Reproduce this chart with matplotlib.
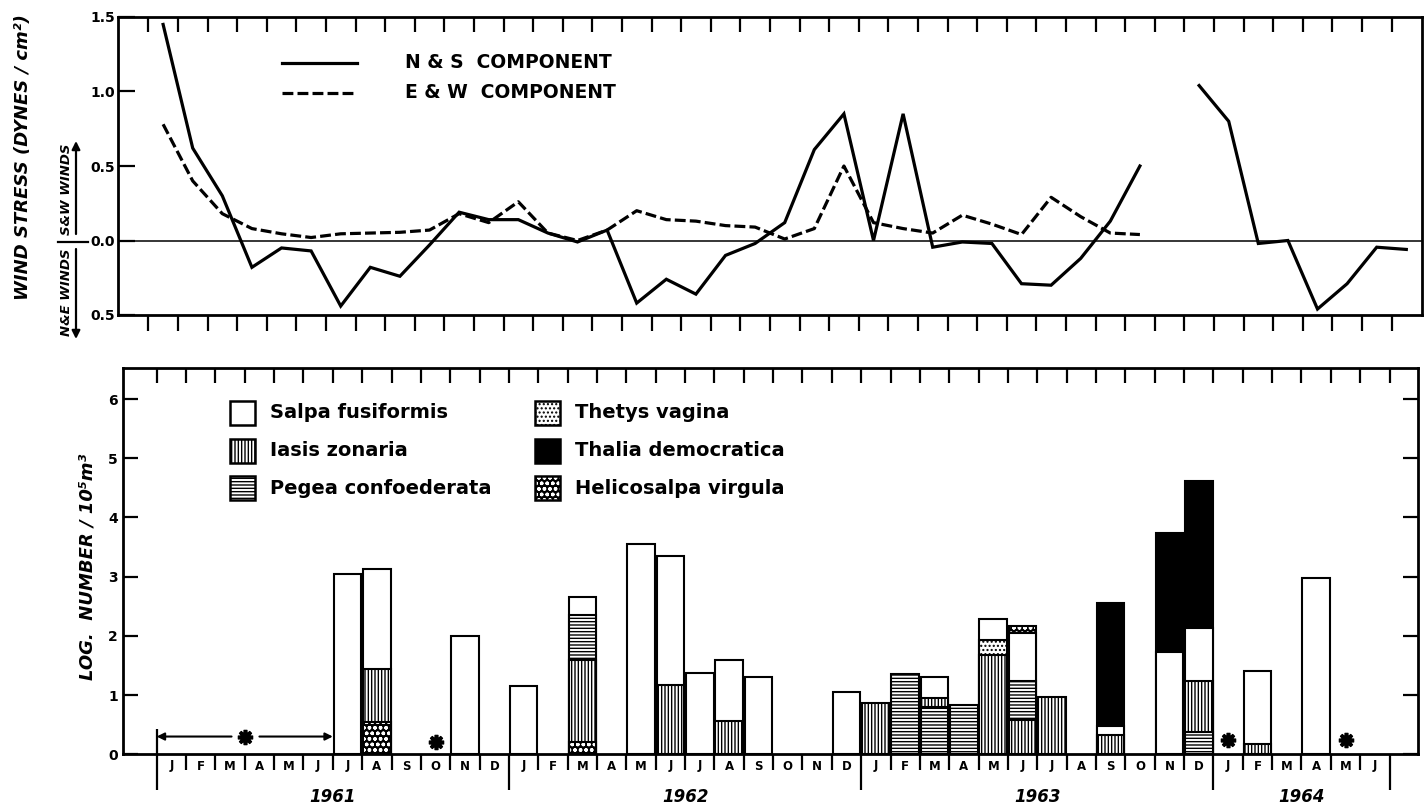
import matplotlib
matplotlib.use('Agg')
import matplotlib.pyplot as plt
from matplotlib.patches import Rectangle
from matplotlib.lines import Line2D
import numpy as np

plt.rcParams['font.family'] = ['DejaVu Sans']
plt.rcParams['hatch.linewidth'] = 1.0

W, H, DPI = 1425, 807, 100

# ---------------- data ----------------
month_letters = ['J', 'F', 'M', 'A', 'M', 'J', 'J', 'A', 'S', 'O', 'N', 'D',
                 'J', 'F', 'M', 'A', 'M', 'J', 'J', 'A', 'S', 'O', 'N', 'D',
                 'J', 'F', 'M', 'A', 'M', 'J', 'J', 'A', 'S', 'O', 'N', 'D',
                 'J', 'F', 'M', 'A', 'M', 'J']
years = ['1961', '1962', '1963', '1964']
year_months = [12, 12, 12, 6]

# wind stress, monthly from Jan 1961 (dynes/cm^2); negative = N&E winds
ns_component = [1.45, 0.62, 0.30, -0.18, -0.05, -0.07, -0.44, -0.18, -0.24, -0.03,
                0.19, 0.14, 0.14, 0.05, -0.01, 0.07, -0.42, -0.26, -0.36, -0.10,
                -0.02, 0.12, 0.61, 0.85, 0.00, 0.85, -0.045, -0.01, -0.02, -0.29,
                -0.30, -0.12, 0.13, 0.50, None, 1.04, 0.80, -0.02, 0.00, -0.46,
                -0.29, -0.045, -0.06]
ew_component = [0.78, 0.40, 0.18, 0.08, 0.045, 0.02, 0.045, 0.05, 0.055, 0.07,
                0.18, 0.12, 0.26, 0.05, 0.00, 0.07, 0.20, 0.14, 0.13, 0.10,
                0.09, 0.01, 0.08, 0.50, 0.12, 0.08, 0.05, 0.17, 0.11, 0.04,
                0.29, 0.16, 0.05, 0.04]

N = None
# log number / 10^5 m^3, monthly from Jan 1961 to Jun 1964
salpa_fusiformis = [N, N, N, N, N, N, 3.04, 3.13, N, N, 1.99, N,
                    1.15, N, 2.65, N, 3.56, 3.35, 1.37, 1.59, 1.31, N, N, 1.05,
                    N, N, 1.30, N, 2.29, 2.05, N, N, 0.47, N, 1.72, 2.14,
                    N, 1.40, N, 2.97, N, N]
iasis_zonaria = [N, N, N, N, N, N, N, 1.44, N, N, N, N,
                 N, N, 1.59, N, N, 1.17, N, 0.57, N, N, N, N,
                 0.86, N, 0.95, N, 1.68, 0.58, 0.96, N, 0.33, N, N, 1.24,
                 N, 0.17, N, N, N, N]
pegea_confoederata = [N, N, N, N, N, N, N, N, N, N, N, N,
                      N, N, 2.35, N, N, N, N, N, N, N, N, N,
                      N, 1.36, 0.80, 0.83, N, 1.23, N, N, N, N, N, 0.37,
                      N, N, N, N, N, N]
thetys_vagina = [N, N, N, N, N, N, N, N, N, N, N, N,
                 N, N, N, N, N, N, N, N, N, N, N, N,
                 N, N, N, N, 1.93, N, N, N, N, N, N, N,
                 N, N, N, N, N, N]
thalia_democratica = [N, N, N, N, N, N, N, N, N, N, N, N,
                      N, N, N, N, N, N, N, N, N, N, N, N,
                      N, N, N, N, N, N, N, N, 2.56, N, 3.73, 4.62,
                      N, N, N, N, N, N]
helicosalpa_virgula = [N, N, N, N, N, N, N, 0.55, N, N, N, N,
                       N, N, 0.20, N, N, N, N, N, N, N, N, N,
                       N, N, N, N, N, 2.16, N, N, N, N, N, N,
                       N, N, N, N, N, N]
# months without sampling (asterisks)
no_sample_month = [3.0, 9.5, 36.5, 40.5]
no_sample_y = [0.30, 0.21, 0.24, 0.24]

species = [
    ('Salpa fusiformis', salpa_fusiformis, 'salpa'),
    ('Iasis zonaria', iasis_zonaria, 'iasis'),
    ('Pegea confoederata', pegea_confoederata, 'pegea'),
    ('Thetys vagina', thetys_vagina, 'thetys'),
    ('Thalia democratica', thalia_democratica, 'thalia'),
    ('Helicosalpa virgula', helicosalpa_virgula, 'helico'),
]

STYLES = {
    'salpa': dict(fc='white', hatch=None, hc=None),
    'iasis': dict(fc='white', hatch='|||||', hc='black'),
    'pegea': dict(fc='white', hatch='-----', hc='black'),
    'thetys': dict(fc='white', hatch='....', hc='black'),
    'thalia': dict(fc='black', hatch=None, hc=None),
    'helico': dict(fc='black', hatch='ooo', hc='white'),
}

# ---------------- figure ----------------
fig = plt.figure(figsize=(W / DPI, H / DPI), dpi=DPI)


def fx(px):
    return px / W


def fy(py):
    return 1 - py / H


t_left, t_right, t_top, t_bot = 118.0, 1421.7, 17.0, 315.0
ax1 = fig.add_axes([fx(t_left), fy(t_bot), (t_right - t_left) / W, (t_bot - t_top) / H])
b_left, b_right, b_top, b_bot = 123.3, 1418.3, 368.3, 754.3
ax2 = fig.add_axes([fx(b_left), fy(b_bot), (b_right - b_left) / W, (b_bot - b_top) / H])

n_bound = len(month_letters) + 1
bounds = np.arange(n_bound)

# ---------------- top panel ----------------
x_ns = np.arange(len(ns_component)) + 0.5
ns_arr = np.array([np.nan if v is None else v for v in ns_component], dtype=float)
ax1.plot(x_ns, ns_arr, color='black', lw=2.3, solid_joinstyle='miter', zorder=3)
x_ew = np.arange(len(ew_component)) + 0.5
ax1.plot(x_ew, ew_component, color='black', lw=2.3, dashes=(3.4, 1.3), zorder=3)
ax1.axhline(0, color='black', lw=1.1, zorder=2)
ax1.set_xlim(-1.024, 43.02)
ax1.set_ylim(-0.5, 1.5)
ax1.set_yticks([-0.5, 0.0, 0.5, 1.0, 1.5])
ax1.set_yticklabels(['0.5', '0.0', '0.5', '1.0', '1.5'])
ax1.tick_params(axis='y', direction='in', length=12, width=1.6, pad=2, labelsize=10)
for t in ax1.get_yticklabels():
    t.set_fontweight('bold')
ax1.set_xticks(bounds)
ax1.tick_params(axis='x', direction='in', top=True, bottom=False, length=10.8,
                width=1.6, labelbottom=False)
ax1.vlines(bounds, -16 / (t_bot - t_top), 0, transform=ax1.get_xaxis_transform(),
           clip_on=False, color='black', lw=1.6)
for s in ax1.spines.values():
    s.set_linewidth(2.0)

# legend for lines
fig.add_artist(Line2D([fx(282), fx(357)], [fy(62.7)] * 2, color='black', lw=2.3))
fig.add_artist(Line2D([fx(282), fx(357)], [fy(92.7)] * 2, color='black', lw=2.3,
                      dashes=(3.4, 1.3)))
fig.text(fx(405), fy(62.7), 'N & S  COMPONENT', fontsize=13.5, fontweight='bold',
         ha='left', va='center')
fig.text(fx(405), fy(92.7), 'E & W  COMPONENT', fontsize=13.5, fontweight='bold',
         ha='left', va='center')

# y labels top
fig.text(fx(23), fy(157), 'WIND STRESS (DYNES / cm²)', rotation=90, fontsize=13,
         fontweight='bold', fontstyle='italic', ha='center', va='center')
fig.text(fx(66), fy(189), 'S&W WINDS', rotation=90, fontsize=9.5,
         fontweight='bold', fontstyle='italic', ha='center', va='center')
fig.text(fx(66), fy(292), 'N&E WINDS', rotation=90, fontsize=9.5,
         fontweight='bold', fontstyle='italic', ha='center', va='center')
fig.add_artist(Line2D([fx(58), fx(88)], [fy(241.7)] * 2, color='black', lw=1.6))
ax1.annotate('', xy=(fx(76), fy(141)), xytext=(fx(76), fy(234)),
             xycoords='figure fraction', textcoords='figure fraction',
             arrowprops=dict(arrowstyle='-|>', color='black', lw=1.6,
                             mutation_scale=12, shrinkA=0, shrinkB=0))
ax1.annotate('', xy=(fx(76), fy(339)), xytext=(fx(76), fy(249)),
             xycoords='figure fraction', textcoords='figure fraction',
             arrowprops=dict(arrowstyle='-|>', color='black', lw=1.6,
                             mutation_scale=12, shrinkA=0, shrinkB=0))

# ---------------- bottom panel ----------------
BAR_W = 0.94


def draw_bar(ax, x, h, style, z):
    st = STYLES[style]
    ax.bar(x, h, BAR_W, color=st['fc'], edgecolor='none', linewidth=0, zorder=z)
    if st['hatch']:
        ax.bar(x, h, BAR_W, color='none', edgecolor=st['hc'], hatch=st['hatch'],
               linewidth=0, zorder=z + 0.1)
    ax.bar(x, h, BAR_W, color='none', edgecolor='black', linewidth=1.5, zorder=z + 0.2)


n_months = len(month_letters)
for m in range(n_months):
    entries = [(vals[m], key) for _, vals, key in species if vals[m] is not None]
    entries.sort(key=lambda e: -e[0])
    for k, (v, key) in enumerate(entries):
        draw_bar(ax2, m + 0.5, v, key, 2 + k)

ax2.set_xlim(-1.138, 42.98)
ax2.set_ylim(0, 6.52)
ax2.set_yticks(range(0, 7))
ax2.tick_params(axis='y', direction='in', length=10.8, width=1.6, pad=4, labelsize=10,
                right=True)
for t in ax2.get_yticklabels():
    t.set_fontweight('bold')
ax2.set_xticks(bounds)
ax2.tick_params(axis='x', direction='in', top=True, bottom=False, length=10.8,
                width=1.6, labelbottom=False)
for s in ax2.spines.values():
    s.set_linewidth(2.0)

ph = b_bot - b_top
year_bounds = np.cumsum([0] + year_months)
short_b = [b for b in bounds if b not in year_bounds]
ax2.vlines(short_b, -16 / ph, 0, transform=ax2.get_xaxis_transform(),
           clip_on=False, color='black', lw=1.6)
ax2.vlines(year_bounds, -36 / ph, 0, transform=ax2.get_xaxis_transform(),
           clip_on=False, color='black', lw=1.6)
for m, lab in enumerate(month_letters):
    ax2.text(m + 0.5, -11.7 / ph, lab, transform=ax2.get_xaxis_transform(),
             ha='center', va='center', fontsize=8.5, fontweight='bold')
for yr, start, nm in zip(years, year_bounds[:-1], year_months):
    ax2.text(start + nm / 2, -42.4 / ph, yr, transform=ax2.get_xaxis_transform(),
             ha='center', va='center', fontsize=12, fontweight='bold',
             fontstyle='italic')

# no-sample annotation
ax2.plot(no_sample_month, no_sample_y, linestyle='none', marker=(8, 2, 0),
         markersize=11, markeredgewidth=2.6, color='black', zorder=10, clip_on=False)
arrow_y = no_sample_y[0]
ax2.annotate('', xy=(0, arrow_y), xytext=(2.55, arrow_y),
             arrowprops=dict(arrowstyle='-|>', color='black', lw=1.5,
                             mutation_scale=11, shrinkA=0, shrinkB=0))
ax2.annotate('', xy=(6, arrow_y), xytext=(3.5, arrow_y),
             arrowprops=dict(arrowstyle='-|>', color='black', lw=1.5,
                             mutation_scale=11, shrinkA=0, shrinkB=0))
ax2.vlines([0], 0, 0.43, color='black', lw=1.6)

fig.text(fx(87), fy(567), 'LOG.  NUMBER / 10⁵m³', rotation=90, fontsize=13,
         fontweight='bold', fontstyle='italic', ha='center', va='center')

# legend for species (manual)
leg_pos = [(230, 413), (230, 451), (230, 488), (535, 413), (535, 451), (535, 488)]
for (name, _, key), (px, py) in zip(species, leg_pos):
    st = STYLES[key]
    r0 = Rectangle((fx(px), fy(py + 12)), 25 / W, 24 / H, transform=fig.transFigure,
                   facecolor=st['fc'], edgecolor='none', linewidth=0)
    fig.add_artist(r0)
    if st['hatch']:
        r1 = Rectangle((fx(px), fy(py + 12)), 25 / W, 24 / H, transform=fig.transFigure,
                       facecolor='none', edgecolor=st['hc'], hatch=st['hatch'],
                       linewidth=0)
        fig.add_artist(r1)
    r2 = Rectangle((fx(px), fy(py + 12)), 25 / W, 24 / H, transform=fig.transFigure,
                   facecolor='none', edgecolor='black', linewidth=1.8)
    fig.add_artist(r2)
    fig.text(fx(px + 40), fy(py), name, fontsize=14, fontweight='bold',
             ha='left', va='center')

fig.savefig('out.png', dpi=DPI)
